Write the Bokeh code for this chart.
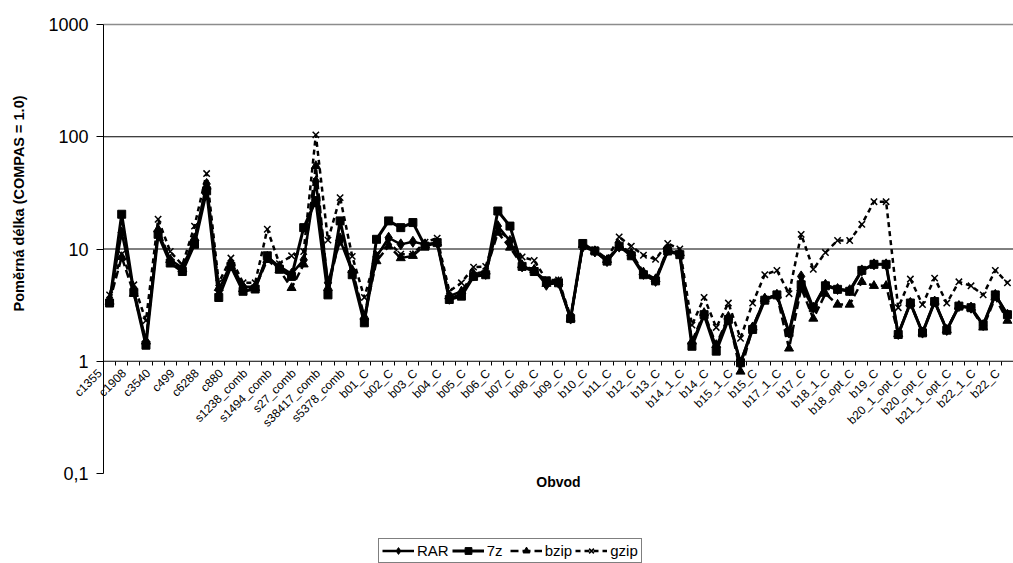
from math import pi
from bokeh.plotting import figure
from bokeh.models import (FixedTicker, Legend, LegendItem, Label,
                          CustomJSTickFormatter)
from bokeh.embed import file_html
from bokeh.resources import INLINE

categories = ["c1355", "c17", "c1908", "c2670", "c3540", "c432", "c499", "c5315",
              "c6288", "c7552", "c880", "s1196_comb", "s1238_comb", "s1423_comb",
              "s1494_comb", "s15850_comb", "s27_comb", "s35932_comb", "s38417_comb",
              "s38584_comb", "s5378_comb", "s9234_comb", "b01_C", "b01_opt_C", "b02_C",
              "b02_opt_C", "b03_C", "b03_opt_C", "b04_C", "b04_opt_C", "b05_C",
              "b05_opt_C", "b06_C", "b06_opt_C", "b07_C", "b07_opt_C", "b08_C",
              "b08_opt_C", "b09_C", "b09_opt_C", "b10_C", "b10_opt_C", "b11_C",
              "b11_opt_C", "b12_C", "b12_opt_C", "b13_C", "b13_opt_C", "b14_1_C",
              "b14_1_opt_C", "b14_C", "b14_opt_C", "b15_1_C", "b15_1_opt_C", "b15_C",
              "b15_opt_C", "b17_1_C", "b17_1_opt_C", "b17_C", "b17_opt_C", "b18_1_C",
              "b18_1_opt_C", "b18_opt_C", "b19_1_C", "b19_C", "b19_opt_C",
              "b20_1_opt_C", "b20_C", "b20_opt_C", "b21_1_C", "b21_1_opt_C",
              "b21_opt_C", "b22_1_C", "b22_1_opt_C", "b22_C"]

rar = [3.5, 14, 4.3, 1.5, 14, 8, 6.8, 12, 38, 4.3,
       7.5, 4.6, 4.6, 8.5, 7.0, 6.0, 8, 40, 5.0, 12,
       6.3, 2.3, 8.5, 12.6, 11, 11.6, 11, 11.4, 3.6, 4.0,
       5.8, 6.0, 16, 11.8, 7.0, 6.5, 4.8, 5.0, 2.4, 10.5,
       9.5, 7.8, 10.5, 9.0, 6.0, 5.2, 9.8, 9.0, 1.45, 2.6,
       1.35, 2.4, 0.97, 2.0, 3.6, 3.9, 1.8, 5.7, 3.0, 4.8,
       4.4, 4.3, 6.45, 7.3, 7.3, 1.75, 3.3, 1.8, 3.4, 1.9,
       3.1, 3.0, 2.1, 3.9, 2.6]

sevenz = [3.3, 20.4, 4.1, 1.39, 13.5, 7.5, 6.3, 11, 33, 3.7,
          7.0, 4.2, 4.4, 8.7, 6.6, 5.7, 15.5, 27, 3.9, 17.8,
          5.9, 2.2, 12.2, 17.8, 15.5, 17.2, 10.6, 11.4, 3.55, 3.8,
          5.7, 5.9, 21.8, 16, 7.0, 6.3, 5.2, 5.0, 2.4, 11.2,
          9.6, 7.8, 10.6, 8.7, 5.9, 5.2, 9.6, 8.9, 1.36, 2.6,
          1.23, 2.36, 0.97, 1.92, 3.5, 3.9, 1.8, 4.8, 3.0, 4.7,
          4.37, 4.2, 6.45, 7.3, 7.3, 1.73, 3.3, 1.79, 3.4, 1.89,
          3.1, 3.0, 2.1, 3.9, 2.6]

bzip = [3.4, 8.5, 4.0, 1.5, 15, 8, 6.6, 12.5, 36, 4.5,
        7.0, 4.4, 4.5, 8.0, 6.5, 4.5, 7.3, 55, 4.5, 12.5,
        6.5, 2.5, 7.8, 10.6, 8.3, 8.7, 10.8, 11.4, 3.8, 4.2,
        6.0, 6.3, 14, 10.3, 7.2, 6.5, 4.9, 5.1, 2.4, 10.8,
        9.6, 8.0, 10.8, 9.2, 6.2, 5.4, 10, 9.2, 1.5, 2.7,
        1.4, 2.5, 0.81, 2.0, 3.6, 3.9, 1.3, 4.5, 2.4, 4.0,
        3.2, 3.2, 5.1, 4.7, 4.7, 1.75, 3.3, 1.8, 3.4, 1.9,
        3.1, 3.0, 2.0, 3.7, 2.3]

gzip = [3.9, 9, 4.8, 2.3, 18.4, 9.5, 7.2, 16, 47, 5.0,
        8.3, 5.0, 5.0, 15, 7.4, 8.7, 9.5, 104, 12, 28.7,
        8.6, 3.7, 9.0, 11.5, 9, 9, 11.5, 12.5, 4.2, 5.0,
        6.9, 7.0, 15, 12, 8.5, 7.9, 5.3, 5.3, 2.5, 10.5,
        9.8, 8.2, 12.8, 10.6, 8.8, 8.1, 11.2, 10, 2.1, 3.7,
        2.0, 3.3, 1.6, 3.3, 5.9, 6.45, 4.0, 13.5, 6.6, 9.3,
        11.9, 11.9, 16.6, 26.4, 26.4, 3.0, 5.4, 3.2, 5.5, 3.3,
        5.1, 4.7, 3.9, 6.45, 5.0]

y_ticks = [0.1, 1, 10, 100, 1000]
y_tick_labels = ["0,1", "1", "10", "100", "1000"]
grid_values = [10, 100]
series_names = ["RAR", "7z", "bzip", "gzip"]
y_title = "Poměrná délka (COMPAS = 1.0)"
x_title = "Obvod"

FONT = "Liberation Sans"
W, H = 1013, 563
PLOT_L, PLOT_T, PLOT_B = 103, 24, 473          # plot area in pixels
n = len(categories)
xs = [i + 0.5 for i in range(n)]

# pixel -> data helpers for the full-canvas frame
cat_w = (W - PLOT_L) / n
dec = (PLOT_B - PLOT_T) / 4.0
x_min = -PLOT_L / cat_w
y_min = 10 ** (-1 - (H - PLOT_B) / dec)
y_max = 10 ** (3 + PLOT_T / dec)

p = figure(width=W, height=H, x_range=(x_min, n), y_range=(y_min, y_max),
           y_axis_type="log", output_backend="svg", toolbar_location=None,
           min_border_left=0, min_border_right=0, min_border_top=0,
           min_border_bottom=0)
p.outline_line_color = None
p.background_fill_color = "white"
p.border_fill_color = "white"
p.xgrid.visible = False
p.ygrid.visible = False

# gridlines, plot-area top edge and axis lines
p.segment(x0=[0] * len(grid_values), y0=grid_values, x1=[n] * len(grid_values),
          y1=grid_values, line_color="black", line_width=1)
p.segment(x0=[0], y0=[y_ticks[-1]], x1=[n], y1=[y_ticks[-1]],
          line_color="#8c8c8c", line_width=1.5)
p.segment(x0=[0], y0=[y_ticks[1]], x1=[n], y1=[y_ticks[1]],
          line_color="black", line_width=1)
p.segment(x0=[0], y0=[y_ticks[0]], x1=[0], y1=[y_ticks[-1]],
          line_color="black", line_width=1)

# x axis (crosses at 1)
shift = 0.8
xa = p.xaxis[0]
xa.fixed_location = 1
xa.ticker = FixedTicker(ticks=[x - shift for x in xs[::2]],
                        minor_ticks=list(range(n + 1)))
xa.formatter = CustomJSTickFormatter(args=dict(cats=categories, shift=shift),
                                     code="return cats[Math.round(tick + shift - 0.5)];")
xa.axis_line_color = None
xa.major_tick_line_color = None
xa.major_tick_in = 0
xa.major_tick_out = 0
xa.minor_tick_in = 0
xa.minor_tick_out = 4
xa.minor_tick_line_color = "black"
xa.major_label_orientation = pi / 4
xa.major_label_text_font = FONT
xa.major_label_text_font_size = "12px"
xa.major_label_text_color = "black"
xa.major_label_standoff = 6

# y axis (at the left edge of the plot area)
ya = p.yaxis[0]
ya.fixed_location = 0
ya.ticker = FixedTicker(ticks=y_ticks, minor_ticks=[])
ya.formatter = CustomJSTickFormatter(
    args=dict(vals=y_ticks, labs=y_tick_labels),
    code="""
    let best = 0;
    for (let i = 0; i < vals.length; i++) {
        if (Math.abs(Math.log10(vals[i]) - Math.log10(tick)) <
            Math.abs(Math.log10(vals[best]) - Math.log10(tick))) best = i;
    }
    return labs[best];
    """)
ya.axis_line_color = None
ya.major_tick_in = 0
ya.major_tick_out = 7
ya.major_tick_line_color = "black"
ya.minor_tick_line_color = None
ya.major_label_text_font = FONT
ya.major_label_text_font_size = "18px"
ya.major_label_text_color = "black"
ya.major_label_standoff = 8

# series
r1l = p.line(xs, rar, line_color="black", line_width=2.5)
r1s = p.scatter(xs, rar, marker="diamond", size=11, color="black")
r2l = p.line(xs, sevenz, line_color="black", line_width=3)
r2s = p.scatter(xs, sevenz, marker="square", size=8, color="black")
r3l = p.line(xs, bzip, line_color="black", line_width=2.5, line_dash="8 4")
r3s = p.scatter(xs, bzip, marker="triangle", size=9, color="black")
r4l = p.line(xs, gzip, line_color="black", line_width=2.5, line_dash="5 4")
r4s = p.scatter(xs, gzip, marker="x", size=9, line_color="black", line_width=1.5)

# titles
title_y = 10 ** (3 - (203 - PLOT_T) / dec)
p.add_layout(Label(x=0, y=title_y, x_offset=-85, text=y_title, angle=pi / 2,
                   text_align="center", text_baseline="middle", text_font=FONT,
                   text_font_size="14.5px", text_font_style="bold",
                   text_color="black"))
p.add_layout(Label(x=n / 2, y=y_ticks[0], y_offset=-8, text=x_title,
                   text_align="center", text_baseline="middle", text_font=FONT,
                   text_font_size="14px", text_font_style="bold",
                   text_color="black"))

legend = Legend(items=[
    LegendItem(label=series_names[0], renderers=[r1l, r1s]),
    LegendItem(label=series_names[1], renderers=[r2l, r2s]),
    LegendItem(label=series_names[2], renderers=[r3l, r3s]),
    LegendItem(label=series_names[3], renderers=[r4l, r4s]),
], orientation="horizontal", location=(378, 0))
legend.border_line_color = "black"
legend.border_line_width = 1
legend.background_fill_color = "white"
legend.background_fill_alpha = 1
legend.label_text_font = FONT
legend.label_text_font_size = "15px"
legend.label_text_color = "black"
legend.glyph_width = 32
legend.glyph_height = 17
legend.label_height = 17
legend.padding = 3
legend.spacing = 3
legend.label_standoff = 3
legend.margin = 0
p.add_layout(legend, "center")

open("out.html", "w").write(file_html(p, INLINE))
